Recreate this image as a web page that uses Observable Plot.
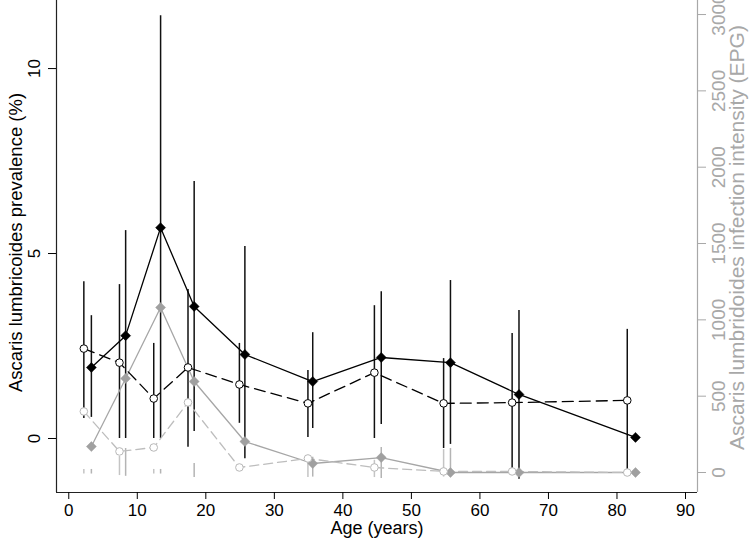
<!DOCTYPE html>
<html>
<head>
<meta charset="utf-8">
<script src="https://cdn.jsdelivr.net/npm/d3@7"></script>
<script src="https://cdn.jsdelivr.net/npm/@observablehq/plot@0.6"></script>
<style>
  body { margin: 0; background: #fff; }
  #chart svg { display: block; }
</style>
</head>
<body>
<div id="chart"></div>
<script>
// ---- data ----
const ageOpen   = [2.2, 7.4, 12.4, 17.4, 24.9, 34.9, 44.6, 54.7, 64.7, 81.5];
const ageFilled = [3.3, 8.3, 13.4, 18.3, 25.7, 35.6, 45.6, 55.7, 65.7, 82.7];

// prevalence (%), left axis
const prevFilled   = [1.92, 2.78, 5.70, 3.57, 2.27, 1.54, 2.19, 2.05, 1.19, 0.03];
const prevFilledLo = [0.57, 0.00, 0.00, 0.19, -0.55, 0.27, 0.38, -0.16, -1.10, null];
const prevFilledHi = [3.32, 5.62, 11.43, 6.95, 5.19, 2.86, 3.97, 4.27, 3.46, null];
const prevOpen     = [2.43, 2.05, 1.08, 1.92, 1.46, 0.95, 1.78, 0.95, 0.97, 1.03];
const prevOpenLo   = [0.54, 0.00, 0.00, -0.24, 0.41, 0.03, 0.00, -0.27, -0.86, -0.86];
const prevOpenHi   = [4.24, 4.16, 2.57, 4.03, 2.57, 1.84, 3.59, 2.16, 2.84, 2.95];

// infection intensity (EPG), right axis
const intFilled   = [170, 616, 1081, 596, 203, 59, 98, 0, 0, 0];
const intFilledLo = [-10, -25, -10, -33, null, -30, -39, -30, null, null];
const intFilledHi = [20, 157, 20, 59, null, 100, 164, 157, null, null];
const intOpen     = [400, 138, 164, 459, 33, 92, 33, 7, 7, 0];
const intOpenLo   = [-10, -20, -10, null, null, -33, -33, -30, null, null];
const intOpenHi   = [20, 105, 20, null, null, 111, 80, 150, null, null];

// axes
const xTicks = [0, 10, 20, 30, 40, 50, 60, 70, 80, 90];
const leftTicks = [0, 5, 10];
const rightTicks = [0, 500, 1000, 1500, 2000, 2500, 3000];
const xDomain = [-1.79, 91.75];
const leftDomain = [-1.46, 11.84];
const rightDomain = [-131, 3092];

// ---- build ----
const toLeft = d3.scaleLinear().domain(rightDomain).range(leftDomain);

const rows = (ages, vals, map = v => v) =>
  ages.map((a, i) => ({age: a, v: map(vals[i])}));
const bars = (ages, lo, hi, map = v => v) =>
  ages.map((a, i) => ({age: a, lo: lo[i], hi: hi[i]}))
      .filter(d => d.lo != null && d.hi != null)
      .map(d => ({age: d.age, lo: map(d.lo), hi: map(d.hi)}));

const pF = rows(ageFilled, prevFilled);
const pO = rows(ageOpen, prevOpen);
const iF = rows(ageFilled, intFilled, toLeft);
const iO = rows(ageOpen, intOpen, toLeft);
const pFb = bars(ageFilled, prevFilledLo, prevFilledHi);
const pOb = bars(ageOpen, prevOpenLo, prevOpenHi);
const iFb = bars(ageFilled, intFilledLo, intFilledHi, toLeft);
const iOb = bars(ageOpen, intOpenLo, intOpenHi, toLeft);

const font = "'Liberation Sans', Arial, Helvetica, sans-serif";
const grayAxis = "#a8a8a8";

const chart = Plot.plot({
  width: 753,
  height: 546,
  marginLeft: 56,
  marginRight: 56,
  marginTop: 0,
  marginBottom: 54,
  style: {fontFamily: font, background: "white", overflow: "visible"},
  x: {domain: xDomain},
  y: {domain: leftDomain},
  marks: [
    // frame lines
    Plot.ruleX([xDomain[0]], {stroke: "#222", strokeWidth: 1.2}),
    Plot.ruleX([xDomain[1]], {stroke: grayAxis, strokeWidth: 1.2}),
    Plot.ruleY([leftDomain[0]], {stroke: "#222", strokeWidth: 1.2}),

    // axes
    Plot.axisX({ticks: xTicks, tickSize: 7, tickPadding: 4, fontSize: 17, color: "#000", label: null}),
    Plot.axisY({anchor: "left", ticks: leftTicks, tickSize: 8, tickPadding: 9, tickRotate: -90,
                textAnchor: "middle", lineAnchor: "bottom", fontSize: 17, color: "#000", label: null}),
    Plot.axisY({anchor: "right", ticks: rightTicks.map(toLeft),
                tickFormat: d => String(Math.round(toLeft.invert(d))),
                tickSize: 8, tickPadding: 6, tickRotate: -90, textAnchor: "middle", lineAnchor: "top",
                fontSize: 19, color: grayAxis, label: null}),

    // titles
    Plot.text(["Ascaris lumbricoides prevalence (%)"], {frameAnchor: "left", dx: -40, dy: -4, rotate: -90,
               textAnchor: "middle", fontSize: 18.5, fill: "#000", lineAnchor: "middle"}),
    Plot.text(["Ascaris lumbridoides infection intensity (EPG)"], {frameAnchor: "right", dx: 40, dy: -9, rotate: -90,
               textAnchor: "middle", fontSize: 21, fill: grayAxis, lineAnchor: "middle"}),
    Plot.text(["Age (years)"], {frameAnchor: "bottom", dy: 36, textAnchor: "middle", fontSize: 18, fill: "#000", lineAnchor: "middle"}),

    // intensity error bars (gray)
    Plot.ruleX(iOb, {x: "age", y1: "lo", y2: "hi", stroke: "#c4c4c4", strokeWidth: 1.5}),
    Plot.ruleX(iFb, {x: "age", y1: "lo", y2: "hi", stroke: "#b4b4b4", strokeWidth: 1.5}),
    // prevalence error bars (black)
    Plot.ruleX(pOb, {x: "age", y1: "lo", y2: "hi", stroke: "#111", strokeWidth: 1.5}),
    Plot.ruleX(pFb, {x: "age", y1: "lo", y2: "hi", stroke: "#111", strokeWidth: 1.5}),

    // lines
    Plot.line(iF, {x: "age", y: "v", stroke: "#a6a6a6", strokeWidth: 1.3}),
    Plot.line(iO, {x: "age", y: "v", stroke: "#bdbdbd", strokeWidth: 1.3, strokeDasharray: "9,5"}),
    Plot.line(pF, {x: "age", y: "v", stroke: "#000", strokeWidth: 1.3}),
    Plot.line(pO, {x: "age", y: "v", stroke: "#000", strokeWidth: 1.3, strokeDasharray: "11,6"}),

    // points
    Plot.dot(iF, {x: "age", y: "v", symbol: "diamond2", r: 4.5, fill: "#a0a0a0", stroke: "#a0a0a0", strokeWidth: 0.5}),
    Plot.dot(iO, {x: "age", y: "v", symbol: "circle", r: 3.8, fill: "white", stroke: "#b8b8b8", strokeWidth: 1}),
    Plot.dot(pF, {x: "age", y: "v", symbol: "diamond2", r: 4.5, fill: "#000", stroke: "#000", strokeWidth: 0.5}),
    Plot.dot(pO, {x: "age", y: "v", symbol: "circle", r: 3.8, fill: "white", stroke: "#000", strokeWidth: 1})
  ]
});

document.getElementById("chart").appendChild(chart);
</script>
</body>
</html>
